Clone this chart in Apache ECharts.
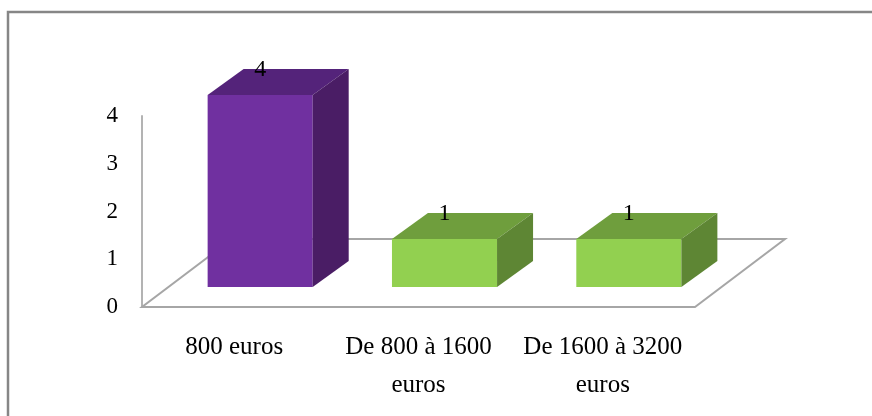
<!DOCTYPE html>
<html>
<head>
<meta charset="utf-8">
<script src="https://cdn.jsdelivr.net/npm/echarts@6/dist/echarts.min.js"></script>
<style>
  html, body { margin: 0; padding: 0; background: #ffffff; }
  #chart { width: 872px; height: 416px; }
</style>
</head>
<body>
<div id="chart"></div>
<script>
// Salary brackets and how many people fall into each
const categories = ['800 euros', 'De 800 à 1600\neuros', 'De 1600 à 3200\neuros'];
const counts = [4, 1, 1];
const yTicks = [0, 1, 2, 3, 4];

// Face colours for each bar: front, top, side
const faceColors = [
  { front: '#7030a0', top: '#54237a', side: '#4a1d65' },
  { front: '#92d050', top: '#6f9e3d', side: '#5e8634' },
  { front: '#92d050', top: '#6f9e3d', side: '#5e8634' }
];

const FONT = '"Liberation Serif", "Times New Roman", serif';
const FLOOR_DEPTH = [90, -68];   // receding direction of the floor
const BAR_DEPTH = [36, -26];     // thickness of each block
const BAR_RATIO = 0.57;          // block width relative to its slot

const chart = echarts.init(document.getElementById('chart'), null, { renderer: 'canvas' });

function renderFloor(params, api) {
  const cs = params.coordSys;
  const x0 = cs.x, x1 = cs.x + cs.width, y = cs.y + cs.height;
  const [dx, dy] = FLOOR_DEPTH;
  return {
    type: 'polygon',
    shape: { points: [[x0, y], [x1, y], [x1 + dx, y + dy], [x0 + dx, y + dy]] },
    style: { fill: '#ffffff', stroke: '#a6a6a6', lineWidth: 2 }
  };
}

function renderBlock(params, api) {
  const i = api.value(0);
  const v = api.value(1);
  const top = api.coord([i, v]);
  const base = api.coord([i, 0]);
  const w = api.size([1, 0])[0] * BAR_RATIO;
  const [dx, dy] = BAR_DEPTH;
  const xl = top[0] - w / 2, xr = top[0] + w / 2;
  const yt = top[1], yb = base[1];
  const c = faceColors[i];
  return {
    type: 'group',
    children: [
      { type: 'rect', shape: { x: xl, y: yt, width: w, height: yb - yt }, style: { fill: c.front } },
      { type: 'polygon', shape: { points: [[xl, yt], [xr, yt], [xr + dx, yt + dy], [xl + dx, yt + dy]] }, style: { fill: c.top } },
      { type: 'polygon', shape: { points: [[xr, yt], [xr, yb], [xr + dx, yb + dy], [xr + dx, yt + dy]] }, style: { fill: c.side } },
      {
        type: 'text',
        x: top[0], y: yt + dy + 1,
        style: { text: String(v), fill: '#000000', font: '24px ' + FONT, align: 'center', verticalAlign: 'middle' }
      }
    ]
  };
}

chart.setOption({
  animation: false,
  backgroundColor: '#ffffff',
  graphic: [{
    type: 'rect',
    shape: { x: 8, y: 12, width: 900, height: 500 },
    style: { fill: 'none', stroke: '#868686', lineWidth: 2.5 },
    z: 100
  }],
  grid: [
    { left: 142, top: 116, width: 553, height: 191 },
    { left: 168, top: 95, width: 553, height: 192 }
  ],
  xAxis: [
    {
      gridIndex: 0, type: 'category', data: categories,
      axisLine: { show: false }, axisTick: { show: false },
      axisLabel: { color: '#000000', fontFamily: FONT, fontSize: 25, lineHeight: 38, margin: 21, interval: 0 }
    },
    {
      gridIndex: 1, type: 'category', data: categories, show: false
    }
  ],
  yAxis: [
    {
      gridIndex: 0, type: 'value', min: 0, max: 4, interval: 1,
      axisLine: { show: true, lineStyle: { color: '#b3b3b3', width: 2 } },
      axisTick: { show: false }, splitLine: { show: false },
      axisLabel: {
        color: '#000000', fontFamily: FONT, fontSize: 23, margin: 24,
        formatter: (val) => (yTicks.includes(val) ? String(val) : '')
      }
    },
    {
      gridIndex: 1, type: 'value', min: 0, max: 4, interval: 1, show: false
    }
  ],
  series: [
    {
      type: 'custom', xAxisIndex: 0, yAxisIndex: 0, z: 1,
      renderItem: renderFloor, data: [[0, 0]], silent: true
    },
    {
      type: 'custom', xAxisIndex: 1, yAxisIndex: 1, z: 5,
      renderItem: renderBlock,
      data: counts.map((v, i) => [i, v])
    }
  ]
});
</script>
</body>
</html>
